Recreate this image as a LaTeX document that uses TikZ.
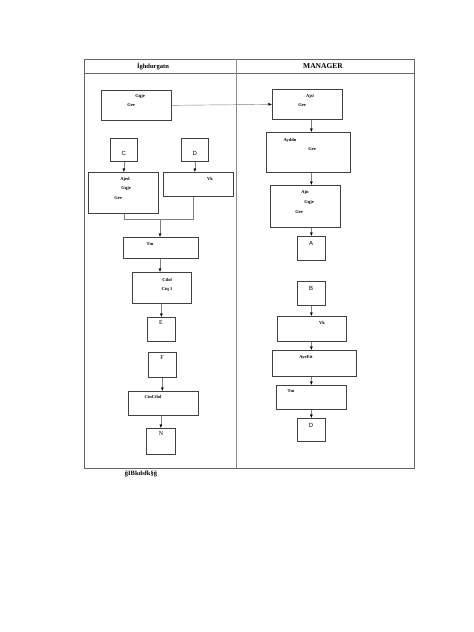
\documentclass[tikz,border=0pt]{standalone}
\usepackage{fontspec}
\setmainfont{Liberation Serif}
\newfontfamily\sansf{Liberation Sans}
\usetikzlibrary{arrows.meta}
\begin{document}
\begin{tikzpicture}[x=1pt,y=-1pt,
  box/.style={draw=black!75,line width=0.7pt,anchor=north west,inner sep=0pt},
  conn/.style={draw=black!50,line width=0.45pt},
  arr/.style={conn,-{Latex[length=3.5pt,width=3pt,color=black]}},
  tiny/.style={font=\bfseries\fontsize{4.5}{5}\selectfont,inner sep=0pt},
  lbl/.style={font=\sansf\fontsize{6}{7}\selectfont,inner sep=0pt}]
\useasboundingbox (0,0) rectangle (474,632);
% table
\draw[black!60,line width=0.7pt] (84,59) rectangle (414,468);
\draw[black!60,line width=0.7pt] (84,73) -- (414,73);
\draw[black!45,line width=0.5pt] (236,59) -- (236,468);
\node[font=\bfseries\fontsize{6.5}{7}\selectfont,inner sep=0pt] (hl) at (153,66) {İghdurgatn};
\node[font=\bfseries\fontsize{7.5}{8}\selectfont,inner sep=0pt] (hr) at (323,66) {MANAGER};
% left column
\node[box,minimum width=70pt,minimum height=30pt] (l1) at (101,90) {};
\node[tiny] (l1a) at (140,96) {Gqje};
\node[tiny] (l1b) at (131,105) {Gee};
\node[box,minimum width=27pt,minimum height=23pt] (c) at (110,138) {};
\node[lbl] at (c.center) [yshift=-4pt] {C};
\node[box,minimum width=27pt,minimum height=23pt] (d) at (181,138) {};
\node[lbl] at (d.center) [yshift=-4pt] {D};
\node[box,minimum width=70pt,minimum height=41pt] (l2) at (88,172) {};
\node[tiny] (l2a) at (125,179) {Ajed};
\node[tiny] (l2b) at (126,188) {Gqje};
\node[tiny] (l2c) at (118,198) {Gee};
\node[box,minimum width=70pt,minimum height=24pt] (l3) at (163,172) {};
\node[tiny] (l3a) at (210,179) {Vk};
\coordinate (m1) at (124,219);
\coordinate (m2) at (193,219);
\coordinate (m3) at (160,219);
\node[box,minimum width=75pt,minimum height=21pt] (l4) at (123,237) {};
\node[tiny] (l4a) at (150,244) {Tm};
\node[box,minimum width=59pt,minimum height=31pt] (l5) at (132,272) {};
\node[tiny] (l5a) at (167,280) {Ctlol};
\node[tiny] (l5b) at (167,289) {Ctq 1};
\node[box,minimum width=28pt,minimum height=24pt] (e) at (147,317) {};
\node[font=\fontsize{6}{7}\selectfont,inner sep=0pt] at (161,323) {E};
\node[box,minimum width=28pt,minimum height=25pt] (f) at (148,352) {};
\node[font=\fontsize{6}{7}\selectfont,inner sep=0pt] at (162,358) {F};
\node[box,minimum width=70pt,minimum height=24pt] (l6) at (128,391) {};
\node[tiny] (l6a) at (153,397) {CtnCtlol};
\node[box,minimum width=29pt,minimum height=26pt] (n) at (146,428) {};
\node[font=\fontsize{6}{7}\selectfont,inner sep=0pt] at (161,434) {N};
% right column
\node[box,minimum width=70pt,minimum height=30pt] (r1) at (272,89) {};
\node[tiny] (r1a) at (310,96) {Ajsi};
\node[tiny] (r1b) at (302,105) {Gee};
\node[box,minimum width=84pt,minimum height=40pt] (r2) at (266,132) {};
\node[tiny] (r2a) at (290,140) {Ayddn};
\node[tiny] (r2b) at (312,149) {Gee};
\node[box,minimum width=70pt,minimum height=42pt] (r3) at (270,185) {};
\node[tiny] (r3a) at (305,192) {Ajn};
\node[tiny] (r3b) at (309,202) {Gqje};
\node[tiny] (r3c) at (299,212) {Gee};
\node[box,minimum width=28pt,minimum height=24pt] (a) at (297,236) {};
\node[lbl] at (311,243) {A};
\node[box,minimum width=28pt,minimum height=24pt] (b) at (297,281) {};
\node[lbl] at (311,288) {B};
\node[box,minimum width=69pt,minimum height=25pt] (r4) at (277,316) {};
\node[tiny] (r4a) at (322,323) {Vk};
\node[box,minimum width=84pt,minimum height=26pt] (r5) at (272,350) {};
\node[tiny] (r5a) at (306,357) {AyeEtt};
\node[box,minimum width=70pt,minimum height=24pt] (r6) at (276,385) {};
\node[tiny] (r6a) at (291,391) {Tm};
\node[box,minimum width=28pt,minimum height=23pt] (d2) at (297,418) {};
\node[lbl] at (311,425) {D};
% footer
\node[font=\bfseries\fontsize{6.5}{7}\selectfont,inner sep=0pt] (ft) at (141,474) {ĝIBkdsfk§ğ};
% connectors
\draw[arr] (l1.east) -- (r1.west);
\draw[arr] (c.south) -- (c.south |- l2.north);
\draw[arr] (d.south) -- (d.south |- l3.north);
\draw[conn] (l2.south -| m1) -- (m1) -- (m2) -- (l3.south -| m2);
\draw[arr] (m3) -- (m3 |- l4.north);
\draw[arr] (l4.south -| m3) -- (m3 |- l5.north);
\draw[arr] (l5.south -| e.north) -- (e.north);
\draw[arr] (f.south) -- (f.south |- l6.north);
\draw[arr] (l6.south -| n.north) -- (n.north);
\draw[arr] (r1.south -| a.north) -- (a.north |- r2.north);
\draw[arr] (r2.south -| a.north) -- (a.north |- r3.north);
\draw[arr] (r3.south -| a.north) -- (a.north);
\draw[arr] (b.south) -- (b.south |- r4.north);
\draw[arr] (r4.south -| b.south) -- (b.south |- r5.north);
\draw[arr] (r5.south -| b.south) -- (b.south |- r6.north);
\draw[arr] (r6.south -| d2.north) -- (d2.north);
\end{tikzpicture}
\end{document}
